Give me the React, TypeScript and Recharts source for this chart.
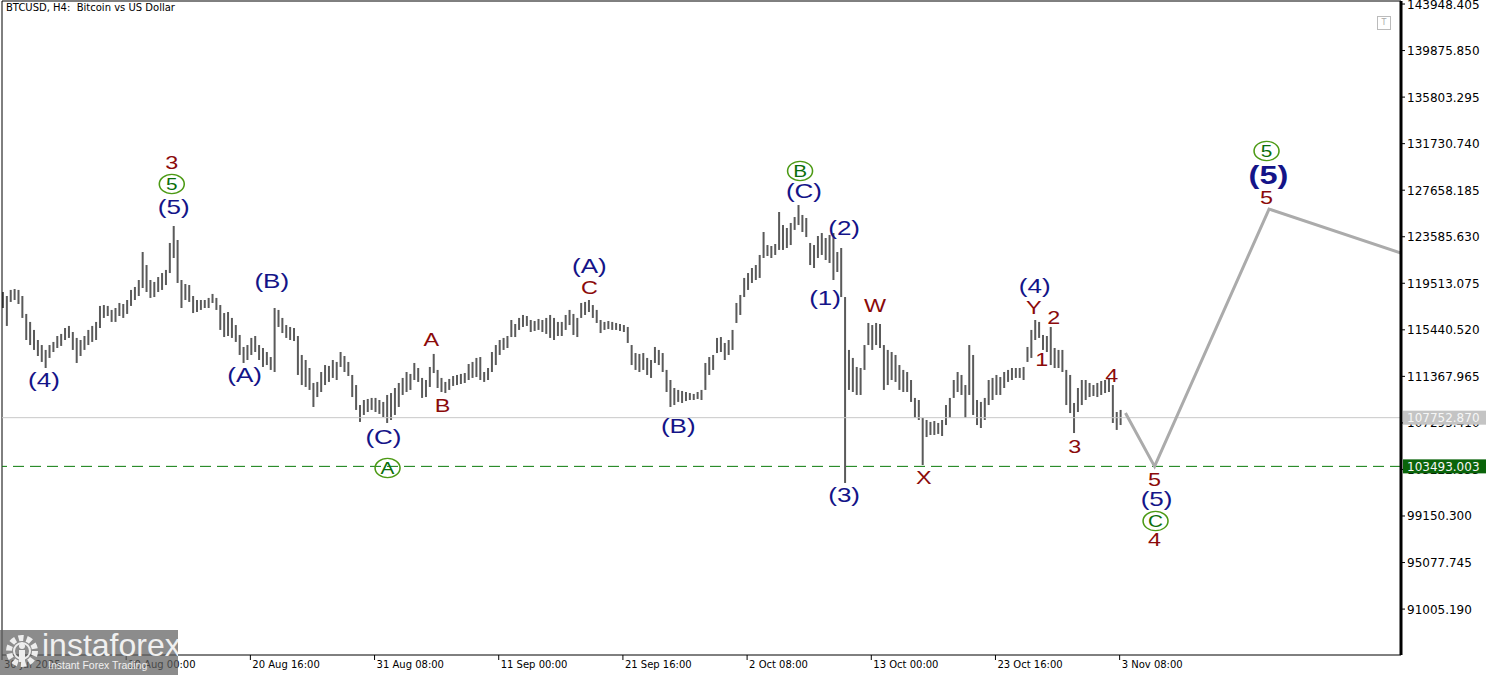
import React from 'react';
import { ComposedChart, Bar, Line, Scatter, XAxis, YAxis, ReferenceLine } from 'recharts';

// BTCUSD, one entry per 8 hours, first bar 30 Jul 2025 08:00
const HIGHS = [
  118750, 118400, 118930, 119010, 118930, 118400, 116830, 116130, 115430, 114550,
  114110, 113680, 114110, 114380, 114900, 115080, 115600, 115780, 115250, 114730,
  114550, 114900, 115430, 115780, 116130, 117530, 117610, 117530, 117180, 117350,
  117790, 117700, 118050, 118930, 119190, 119800, 122250, 121110, 119800, 119630,
  120060, 120410, 120680, 123040, 124525, 123300, 119800, 119450, 119360, 118400,
  118050, 118050, 118050, 118230, 118580, 118230, 117610, 116910, 117000, 116480,
  115860, 114990, 113940, 114110, 114730, 114900, 114110, 113850, 113500, 113060,
  117350, 117180, 116480, 115860, 115690, 115600, 114900, 113240, 112800, 112100,
  110790, 110880, 111750, 112360, 112280, 112800, 112630, 113500, 113150, 112630,
  111490, 110610, 108860, 109300, 109390, 109480, 109480, 109300, 109130, 109740,
  109910, 110350, 110790, 111230, 111750, 111580, 112540, 112100, 111230, 111050,
  112190, 113330, 111930, 111230, 110880, 111140, 111400, 111490, 111580, 111660,
  112450, 112630, 112980, 113060, 111750, 112100, 113500, 114110, 114550, 114730,
  114900, 116300, 115950, 116480, 116740, 116650, 116300, 116210, 116390, 116300,
  116480, 116740, 116480, 116130, 116130, 116740, 117180, 116830, 116480, 117790,
  117880, 118050, 117610, 117180, 116300, 116130, 116210, 116130, 116040, 115950,
  115860, 115690, 114110, 113410, 113330, 113410, 112980, 112800, 113940, 113680,
  113410, 111930, 111050, 110350, 110180, 110090, 110000, 109910, 109830, 110000,
  110180, 112540, 113060, 113240, 114730, 114810, 114290, 114550, 115430, 117790,
  118490, 119980, 120410, 120850, 121110, 121990, 124000, 122860, 122775, 122950,
  125750, 124610, 124350, 124790, 125310, 126360, 125490, 125225, 123040, 122860,
  123650, 123910, 123475, 123740, 123910, 122250, 122600, 118310, 113680, 112980,
  112190, 112100, 114110, 116040, 115860, 116040, 115950, 114110, 113680, 113500,
  113240, 112360, 111930, 111750, 111050, 109480, 109300, 107730, 107550, 107380,
  107460, 107290, 107550, 108860, 109480, 111050, 111750, 111490, 110610, 114110,
  113240, 109300, 109130, 109480, 111050, 111230, 111490, 111310, 111750, 111930,
  112100, 112100, 112100, 112190, 113940, 115430, 116300, 116130, 114990, 114900,
  115690, 113850, 113680, 113680, 111930, 111490, 109040, 110350, 111050, 111050,
  110790, 110610, 110790, 110960, 111050, 111230, 110610, 108250, 108430,
];

const LOWS = [
  117350, 115780, 117880, 118050, 117700, 116480, 114550, 114110, 113680, 113150,
  112630, 112100, 112980, 113500, 113850, 114030, 114550, 114730, 113680, 112540,
  113150, 113680, 114110, 114380, 114550, 115600, 116480, 116650, 116130, 116130,
  116650, 116480, 116830, 117530, 118050, 118400, 119100, 118750, 118230, 118310,
  118750, 118930, 119360, 120410, 121725, 119540, 117350, 118050, 117880, 116910,
  117000, 117180, 117350, 117350, 117790, 117180, 115430, 114810, 114900, 114730,
  114380, 113240, 112540, 112800, 113240, 113500, 112800, 112190, 112360, 111930,
  111750, 115690, 115160, 114730, 114550, 114460, 111490, 110610, 110440, 110180,
  108690, 109560, 110000, 110610, 110880, 111230, 111050, 112190, 111750, 111400,
  109560, 108430, 107380, 107990, 108250, 108430, 108250, 108080, 107810, 107290,
  107550, 107990, 108690, 109740, 110000, 110180, 111050, 110880, 109480, 109560,
  110440, 111660, 110350, 110000, 109910, 110180, 110530, 110610, 110700, 110790,
  111050, 111230, 111310, 111050, 110880, 111050, 111750, 112360, 113240, 113680,
  113850, 114810, 114810, 115430, 115690, 115780, 115250, 115340, 115430, 115250,
  115080, 114730, 114550, 114900, 114900, 115430, 115860, 114990, 114810, 116480,
  116740, 117000, 116480, 116040, 115160, 115430, 115510, 115430, 115430, 115340,
  115250, 114290, 112360, 111930, 111750, 111930, 111490, 111230, 112540, 112360,
  111750, 110000, 108690, 108860, 109130, 109040, 109210, 109300, 109300, 109390,
  109300, 110180, 111490, 111930, 113410, 113500, 112800, 113240, 113680, 116040,
  116740, 118310, 118930, 119540, 119800, 119980, 121725, 121900, 121725, 121990,
  122430, 122430, 122600, 122860, 124180, 124610, 124000, 123560, 121110, 120850,
  121725, 121990, 121550, 121290, 119800, 120500, 118310, 102040, 110180, 110000,
  109740, 109740, 111930, 114110, 113680, 114110, 113850, 110180, 110610, 111050,
  110880, 110180, 110000, 110000, 109130, 107730, 107550, 103610, 106060, 106240,
  106240, 106330, 106150, 107110, 107730, 109480, 110000, 109740, 107730, 109740,
  107990, 107110, 106850, 107550, 108860, 109300, 109740, 109740, 110350, 110880,
  111050, 111230, 111230, 111050, 112630, 112980, 114550, 114730, 113680, 113500,
  112360, 112100, 112100, 111750, 108860, 108160, 106410, 108250, 108860, 109300,
  109560, 109650, 109560, 109740, 109910, 110000, 107290, 106680, 107110,
];

// time axis in H4 bars from 30 Jul 2025 08:00
const TIME_TICKS = [0, 64, 128, 192, 256, 320, 384, 448, 512, 576];
const TIME_LABELS = [
  '30 Jul 2025', '10 Aug 00:00', '20 Aug 16:00', '31 Aug 08:00', '11 Sep 00:00',
  '21 Sep 16:00', '2 Oct 08:00', '13 Oct 00:00', '23 Oct 16:00', '3 Nov 08:00',
];

const PRICE_TICKS = [
  143948.405, 139875.85, 135803.295, 131730.74, 127658.185, 123585.63, 119513.075,
  115440.52, 111367.965, 107295.41, 103222.855, 99150.3, 95077.745, 91005.19,
];
const LAST_PRICE = 107752.87;
const TARGET_LEVEL = 103493.003;

// forecast path (gray line)
const FORECAST_T = [579, 594, 653, 721];
const FORECAST_P = [108160, 103493, 126010, 122160];

// wave labels: text, style, bar time, price
const WAVES: [string, string, number, number][] = [
  ['3', 'red', 87.5, 130040],
  ['5', 'circle', 87.5, 128200],
  ['(5)', 'blue', 88.5, 126190],
  ['(4)', 'blue', 21.6, 111050],
  ['(B)', 'blue', 139, 119710],
  ['(A)', 'blue', 125, 111490],
  ['(C)', 'blue', 196.6, 106060],
  ['A', 'circle', 198.7, 103350],
  ['A', 'red', 221.3, 114550],
  ['B', 'red', 227, 108860],
  ['(A)', 'blue', 302.7, 121030],
  ['C', 'red', 302.7, 119100],
  ['(B)', 'blue', 348.5, 107030],
  ['B', 'circle', 411.3, 129340],
  ['(C)', 'blue', 413.3, 127590],
  ['(2)', 'blue', 434, 124350],
  ['(1)', 'blue', 424.2, 118230],
  ['(3)', 'blue', 434, 100990],
  ['W', 'red', 449.9, 117530],
  ['X', 'red', 475.1, 102480],
  ['(4)', 'blue', 532.2, 119280],
  ['Y', 'red', 531.7, 117350],
  ['2', 'red', 542, 116560],
  ['1', 'red', 535.8, 112800],
  ['3', 'red', 552.8, 105190],
  ['4', 'red', 571.9, 111400],
  ['5', 'red', 594, 102300],
  ['(5)', 'blue', 595, 100640],
  ['C', 'circle', 594.5, 98710],
  ['4', 'red', 594, 97050],
  ['5', 'circle', 651.7, 131090],
  ['(5)', 'big', 652.7, 128990],
  ['5', 'red', 651.7, 127060],
];

const WAVE_STYLE: Record<string, { color: string; size: number; weight: number }> = {
  red: { color: '#8b0a0a', size: 18, weight: 400 },
  blue: { color: '#141488', size: 20, weight: 400 },
  big: { color: '#141488', size: 25, weight: 700 },
  circle: { color: '#0a6e0a', size: 16, weight: 400 },
};

const Y_MIN = 86987.5;
const Y_MAX = 144212.5;
const AXIS_FONT = '"DejaVu Sans", Verdana, sans-serif';
const LABEL_FONT = '"Liberation Sans", Arial, sans-serif';

const bars = HIGHS.map((h, i) => ({ t: 2 * i + 0.5, range: [LOWS[i], h] }));
const forecast = FORECAST_T.map((t, i) => ({ t, p: FORECAST_P[i] }));
const waves = WAVES.map(([text, kind, t, p]) => ({ text, kind, t, p }));

// high-low stick, drawn as a thin dark rect centred on the bar slot
const PriceBar = (props: any) => {
  const { x, y, width, height } = props;
  if (x == null || y == null) return null;
  const cx = x + (width || 0) / 2;
  return <rect x={cx - 1} y={y} width={2} height={Math.max(Math.abs(height), 1)} fill="#5a5a5a" />;
};

const TimeTick = ({ x, y, payload }: any) => {
  const label = TIME_LABELS[TIME_TICKS.indexOf(payload.value)];
  return (
    <g>
      <line x1={x} y1={y} x2={x} y2={y + 5} stroke="#000" />
      <text x={x + 2} y={y + 13} fontSize={10} fontFamily={AXIS_FONT} fill="#000">{label}</text>
    </g>
  );
};

const PriceTick = ({ x, y, payload }: any) => {
  const v = payload.value;
  if (v === LAST_PRICE || v === TARGET_LEVEL) {
    const bg = v === LAST_PRICE ? '#c4c4c4' : '#0a640a';
    return (
      <g>
        <rect x={x + 2} y={y - 7} width={83} height={14} fill={bg} />
        <text x={x + 6} y={y + 4.5} fontSize={12} fontFamily={AXIS_FONT} fill="#f6f6f6">{v.toFixed(3)}</text>
      </g>
    );
  }
  return (
    <g>
      <line x1={x} y1={y} x2={x + 4} y2={y} stroke="#000" />
      <text x={x + 6} y={y + 4.5} fontSize={12} fontFamily={AXIS_FONT} fill="#000">{v.toFixed(3)}</text>
    </g>
  );
};

const WaveMark = (props: any) => {
  const { cx, cy, payload } = props;
  if (cx == null || cy == null) return null;
  const s = WAVE_STYLE[payload.kind];
  return (
    <g transform={`translate(${cx},${cy}) scale(1.3,1)`}>
      {payload.kind === 'circle' && (
        <circle r={9.6} fill="none" stroke="#4c9a14" strokeWidth={1.2} />
      )}
      <text
        x={0}
        y={s.size * 0.36}
        textAnchor="middle"
        fontSize={s.size}
        fontWeight={s.weight}
        fontFamily={LABEL_FONT}
        fill={s.color}
      >
        {payload.text}
      </text>
    </g>
  );
};

const Watermark = () => (
  <div
    style={{
      position: 'absolute', left: 0, top: 630, width: 178, height: 45,
      background: 'rgba(95,95,95,0.72)', overflow: 'hidden', pointerEvents: 'none',
    }}
  >
    <svg width={40} height={44} style={{ position: 'absolute', left: 4, top: 1 }}>
      <circle cx={18} cy={20} r={13} fill="none" stroke="#eee" strokeWidth={6} strokeDasharray="5 3.2" />
      <circle cx={18} cy={20} r={8} fill="none" stroke="#eee" strokeWidth={2} />
      <circle cx={18} cy={15} r={3} fill="#eee" />
      <rect x={15} y={19} width={6} height={12} fill="#eee" />
    </svg>
    <div style={{ position: 'absolute', left: 42, top: -3, fontFamily: LABEL_FONT, fontSize: 32, color: '#f0f0f0' }}>
      instaforex
    </div>
    <div style={{ position: 'absolute', left: 48, top: 29, fontFamily: LABEL_FONT, fontSize: 10.5, color: '#f0f0f0' }}>
      Instant Forex Trading
    </div>
  </div>
);

export default function App() {
  return (
    <div style={{ position: 'absolute', left: 0, top: 0, width: 1500, height: 675, background: '#fff' }}>
      <ComposedChart width={1500} height={675} data={bars} margin={{ top: 1, right: 0, bottom: 0, left: 2 }}>
        <XAxis
          dataKey="t"
          type="number"
          domain={[0, 721]}
          allowDataOverflow
          ticks={TIME_TICKS}
          interval={0}
          tick={<TimeTick />}
          tickLine={false}
          tickSize={0}
          tickMargin={0}
          height={20}
          axisLine={{ stroke: '#000', strokeWidth: 1 }}
        />
        <YAxis
          orientation="right"
          type="number"
          domain={[Y_MIN, Y_MAX]}
          allowDataOverflow
          ticks={[...PRICE_TICKS, LAST_PRICE, TARGET_LEVEL]}
          interval={0}
          tick={<PriceTick />}
          tickLine={false}
          tickSize={0}
          tickMargin={0}
          width={99}
          axisLine={{ stroke: '#000', strokeWidth: 3 }}
        />
        <ReferenceLine x={0} stroke="#000" strokeWidth={1} />
        <ReferenceLine y={Y_MAX} stroke="#000" strokeWidth={1} />
        <ReferenceLine y={LAST_PRICE} stroke="#c8c8c8" strokeWidth={1} />
        <Bar dataKey="range" barSize={2} shape={<PriceBar />} isAnimationActive={false} />
        <ReferenceLine y={TARGET_LEVEL} stroke="#0a7a0a" strokeWidth={1} strokeDasharray="11 6" />
        <Line
          data={forecast}
          dataKey="p"
          stroke="#ababab"
          strokeWidth={3}
          dot={false}
          activeDot={false}
          isAnimationActive={false}
        />
        <Scatter data={waves} dataKey="p" shape={<WaveMark />} isAnimationActive={false} />
      </ComposedChart>
      <div style={{ position: 'absolute', left: 6, top: 2, fontFamily: AXIS_FONT, fontSize: 10, color: '#000' }}>
        BTCUSD, H4:&nbsp; Bitcoin vs US Dollar
      </div>
      <div
        style={{
          position: 'absolute', left: 1377, top: 16, width: 12, height: 12, border: '1px solid #bbb',
          fontFamily: AXIS_FONT, fontSize: 8, color: '#aaa', textAlign: 'center', lineHeight: '12px',
        }}
      >
        T
      </div>
      <Watermark />
    </div>
  );
}
